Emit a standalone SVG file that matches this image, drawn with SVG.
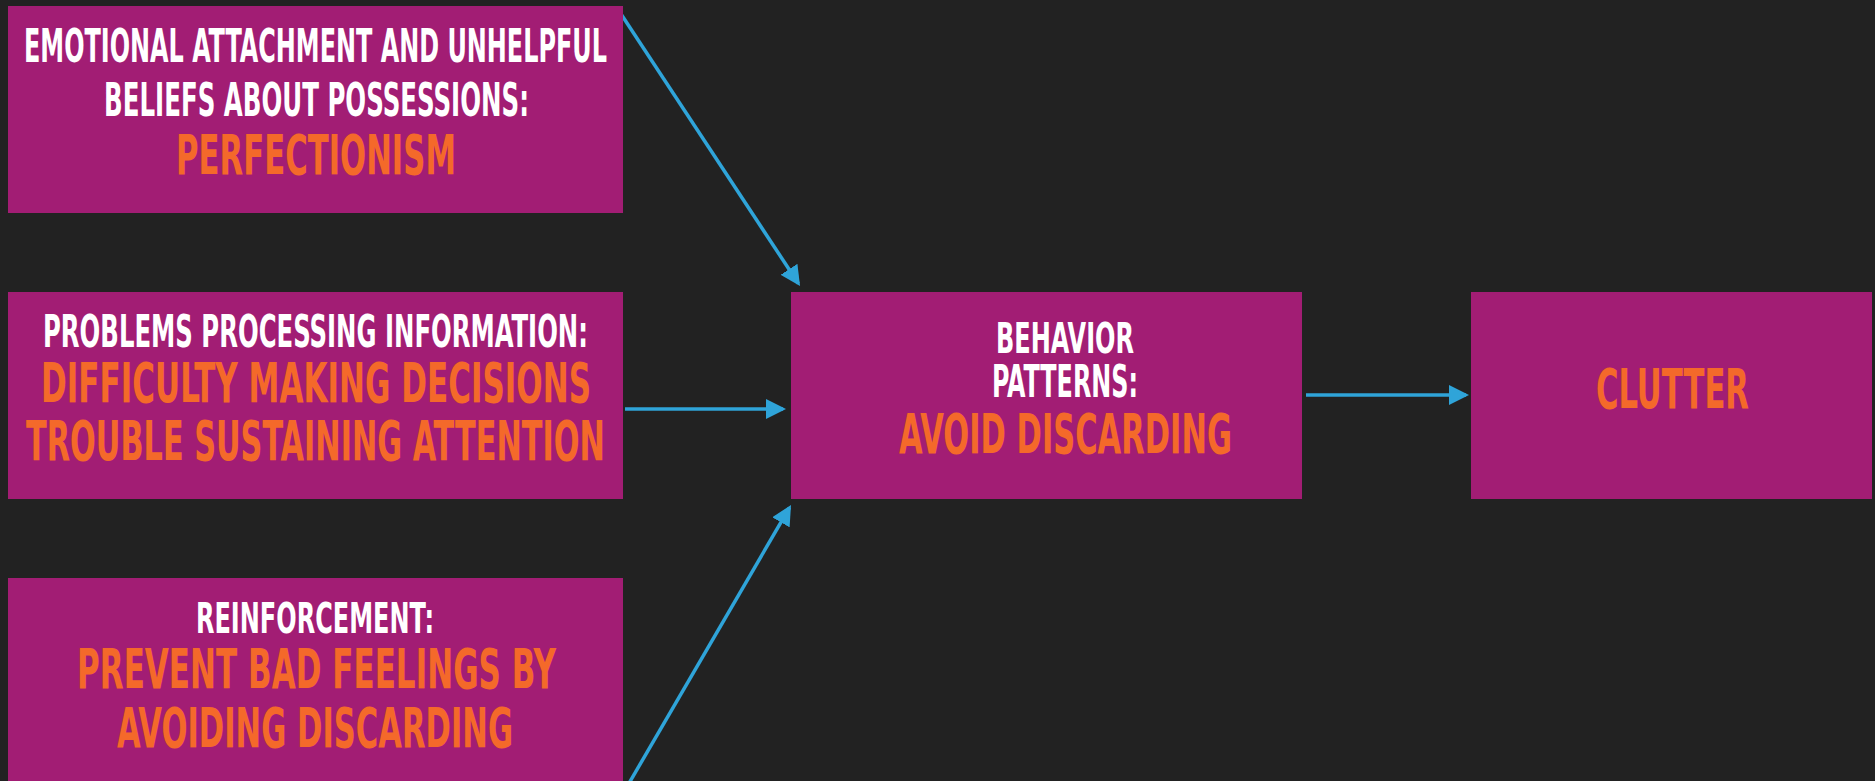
<svg xmlns="http://www.w3.org/2000/svg" width="1875" height="781" viewBox="0 0 1875 781">
<style>
.box{fill:#a21d74}
.t{font-family:"DejaVu Sans Condensed","DejaVu Sans","Liberation Sans",sans-serif;font-weight:bold;text-anchor:middle}
.w{fill:#ffffff}
.o{fill:#f4692a}
.c{stroke:#2fa4d9;stroke-width:3.5;fill:none;marker-end:url(#ah)}
</style>
<defs>
<marker id="ah" markerUnits="userSpaceOnUse" viewBox="0 0 20 20" markerWidth="20" markerHeight="20" refX="17" refY="10" orient="auto">
<path d="M0,0 L20,10 L0,20 z" fill="#2fa4d9"/>
</marker>
</defs>
<rect width="1875" height="781" fill="#222222"/>
<g id="connectors">
<line class="c" x1="621" y1="14" x2="798.4" y2="283.5"/>
<line class="c" x1="625" y1="409" x2="783" y2="409"/>
<line class="c" x1="628" y1="785" x2="789.5" y2="507.6"/>
<line class="c" x1="1306" y1="395" x2="1466" y2="395"/>
</g>
<g id="node-beliefs">
<rect class="box" x="8" y="6" width="615" height="207"/>
<text class="t w" x="315.5" y="62" font-size="46" textLength="583" lengthAdjust="spacingAndGlyphs">EMOTIONAL ATTACHMENT AND UNHELPFUL</text>
<text class="t w" x="316.5" y="116" font-size="46" textLength="425" lengthAdjust="spacingAndGlyphs">BELIEFS ABOUT POSSESSIONS:</text>
<text class="t o" x="316" y="174" font-size="56" textLength="280" lengthAdjust="spacingAndGlyphs">PERFECTIONISM</text>
</g>
<g id="node-processing">
<rect class="box" x="8" y="292" width="615" height="207"/>
<text class="t w" x="315.5" y="347" font-size="44" textLength="545" lengthAdjust="spacingAndGlyphs">PROBLEMS PROCESSING INFORMATION:</text>
<text class="t o" x="316" y="402" font-size="55" textLength="550" lengthAdjust="spacingAndGlyphs">DIFFICULTY MAKING DECISIONS</text>
<text class="t o" x="315.5" y="460" font-size="55" textLength="579" lengthAdjust="spacingAndGlyphs">TROUBLE SUSTAINING ATTENTION</text>
</g>
<g id="node-reinforcement">
<rect class="box" x="8" y="578" width="615" height="210"/>
<text class="t w" x="315" y="633" font-size="43" textLength="238" lengthAdjust="spacingAndGlyphs">REINFORCEMENT:</text>
<text class="t o" x="316.5" y="688" font-size="55" textLength="479" lengthAdjust="spacingAndGlyphs">PREVENT BAD FEELINGS BY</text>
<text class="t o" x="315" y="747" font-size="56" textLength="396" lengthAdjust="spacingAndGlyphs">AVOIDING DISCARDING</text>
</g>
<g id="node-behavior">
<rect class="box" x="791" y="292" width="511" height="207"/>
<text class="t w" x="1065" y="353" font-size="43" textLength="138" lengthAdjust="spacingAndGlyphs">BEHAVIOR</text>
<text class="t w" x="1065" y="397" font-size="44" textLength="146" lengthAdjust="spacingAndGlyphs">PATTERNS:</text>
<text class="t o" x="1065.5" y="453" font-size="56" textLength="333" lengthAdjust="spacingAndGlyphs">AVOID DISCARDING</text>
</g>
<g id="node-clutter">
<rect class="box" x="1471" y="292" width="401" height="207"/>
<text class="t o" x="1672.5" y="408" font-size="56" textLength="153" lengthAdjust="spacingAndGlyphs">CLUTTER</text>
</g>
</svg>
